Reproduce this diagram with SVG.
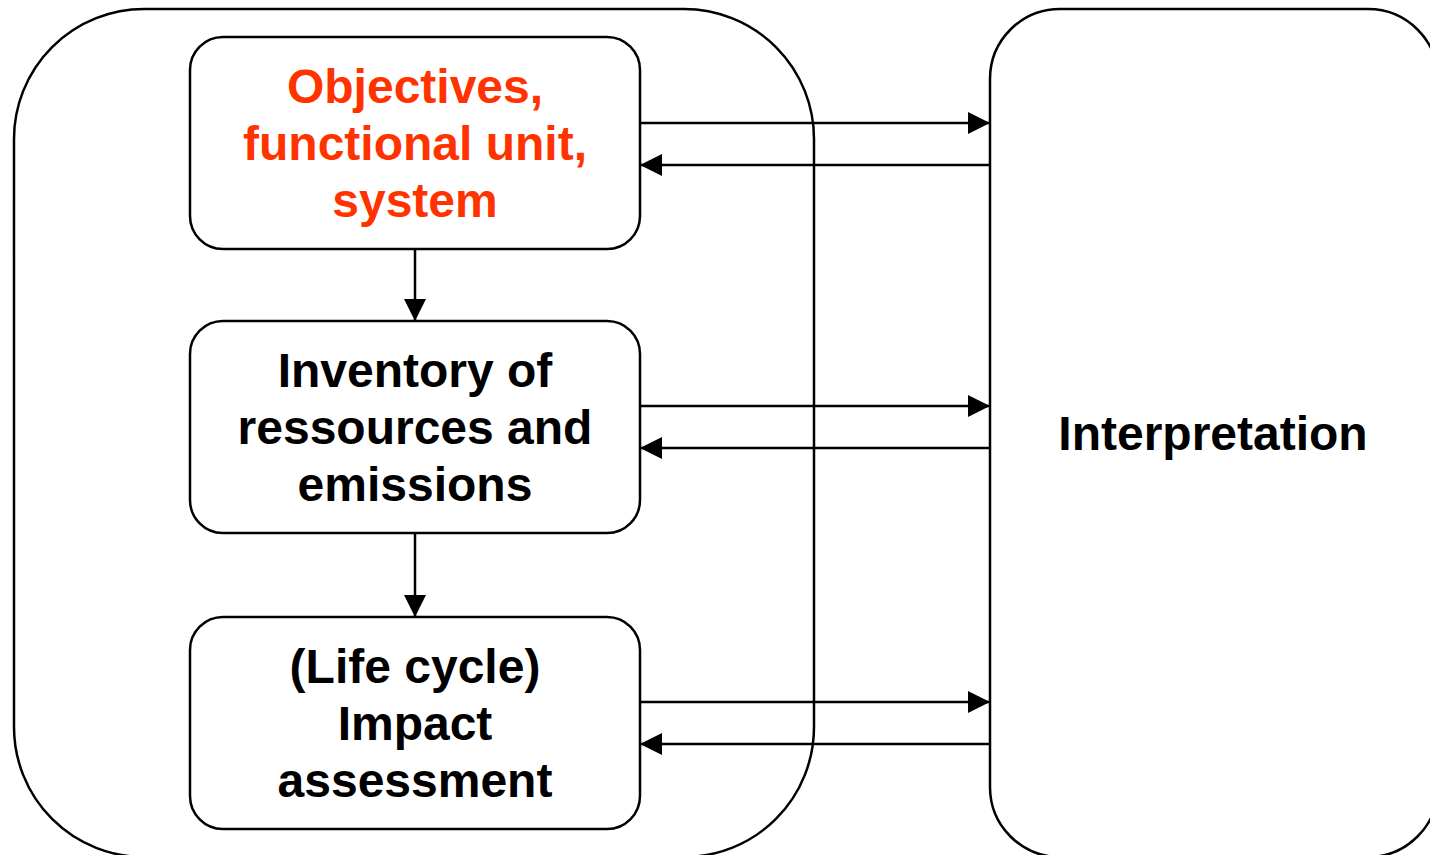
<svg xmlns="http://www.w3.org/2000/svg" width="1430" height="855" viewBox="0 0 1430 855">
<defs>
<style>
.box{fill:none;stroke:#000;stroke-width:2.5}
.inner{fill:#fff;stroke:#000;stroke-width:2.5}
.lbl{font-family:"Liberation Sans",Arial,Helvetica,sans-serif;font-weight:bold;font-size:48px;text-anchor:middle;fill:#000}
.red{fill:#FF3300}
.conn{stroke:#000;stroke-width:2.5;fill:none;marker-end:url(#ah)}
</style>
<marker id="ah" markerUnits="userSpaceOnUse" markerWidth="24" markerHeight="24" viewBox="0 0 24 24" refX="22" refY="12" orient="auto">
<path d="M0,1 L22,12 L0,23 Z" fill="#000"/>
</marker>
</defs>
<rect width="1430" height="855" fill="#fff"/>
<g id="phase-group">
<rect class="box" x="14" y="9" width="800" height="848" rx="130" ry="130"/>
</g>
<g id="interpretation">
<rect class="box" x="990" y="9" width="448" height="848" rx="70" ry="70"/>
<text class="lbl" x="1213" y="450">Interpretation</text>
</g>
<g id="connectors">
<line class="conn" x1="415" y1="249" x2="415" y2="321"/>
<line class="conn" x1="415" y1="533" x2="415" y2="617"/>
<line class="conn" x1="640" y1="123" x2="990" y2="123"/>
<line class="conn" x1="990" y1="165" x2="640" y2="165"/>
<line class="conn" x1="640" y1="406" x2="990" y2="406"/>
<line class="conn" x1="990" y1="448" x2="640" y2="448"/>
<line class="conn" x1="640" y1="702" x2="990" y2="702"/>
<line class="conn" x1="990" y1="744" x2="640" y2="744"/>
</g>
<g id="objectives">
<rect class="inner" x="190" y="37" width="450" height="212" rx="33" ry="33"/>
<text class="lbl red" x="415" y="103">Objectives,</text>
<text class="lbl red" x="415" y="160">functional unit,</text>
<text class="lbl red" x="415" y="217">system</text>
</g>
<g id="inventory">
<rect class="inner" x="190" y="321" width="450" height="212" rx="33" ry="33"/>
<text class="lbl" x="415" y="387">Inventory of</text>
<text class="lbl" x="415" y="444">ressources and</text>
<text class="lbl" x="415" y="501">emissions</text>
</g>
<g id="impact">
<rect class="inner" x="190" y="617" width="450" height="212" rx="33" ry="33"/>
<text class="lbl" x="415" y="683">(Life cycle)</text>
<text class="lbl" x="415" y="740">Impact</text>
<text class="lbl" x="415" y="797">assessment</text>
</g>
</svg>
